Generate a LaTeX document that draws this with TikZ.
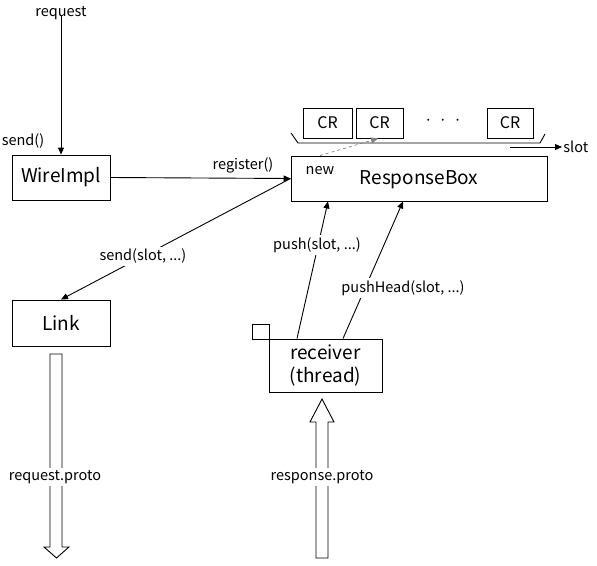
\documentclass[tikz,border=0pt]{standalone}
\usepackage{fontspec}
\setmainfont{Noto Sans CJK JP}
\usetikzlibrary{arrows.meta}
\begin{document}
\begin{tikzpicture}[x=1pt,y=-1pt,line width=0.9pt,
  big/.style={font=\fontsize{19}{22}\selectfont},
  small/.style={font=\fontsize{14.5}{16}\selectfont},
  box/.style={draw,rectangle,inner sep=0pt,big},
  lbl/.style={small,inner sep=2pt},
  wlbl/.style={small,inner sep=2pt,fill=white},
  arr/.style={-{Triangle[length=7pt,width=6pt]}},
  hollow/.style={draw,fill=white,line width=0.9pt}]
\useasboundingbox (0,0) rectangle (597,565);
% main boxes
\node[box,minimum width=98pt,minimum height=45pt] (wire) at (61,177.5) {WireImpl};
\node[box,minimum width=256pt,minimum height=45pt] (rbox) at (419,178.5) {};
\node[big] (rtext) at (419,180) {ResponseBox};
\node[small] (new) at (320,171) {new};
\node[box,minimum width=98pt,minimum height=46pt] (link) at (61,323) {Link};
\node[box,minimum width=113pt,minimum height=53pt,align=center,font=\fontsize{19}{23}\selectfont] (recv) at (325.5,365.5) {receiver\\(thread)};
\node[draw,rectangle,minimum width=17pt,minimum height=15pt,inner sep=0pt] (sq) at (260.5,331.5) {};
% CR boxes
\node[box,minimum width=49pt,minimum height=30pt,font=\fontsize{16}{18}\selectfont] (cr1) at (327.5,123) {CR};
\node[box,minimum width=47pt,minimum height=30pt,font=\fontsize{16}{18}\selectfont] (cr2) at (379.5,123) {CR};
\node[box,minimum width=46pt,minimum height=30pt,font=\fontsize{16}{18}\selectfont] (cr3) at (510,123) {CR};
\node[small] (dots) at (443,122) {·\ \ ·\ \ ·};
% bracket
\draw (291,133) -- (298,143) -- (540,143) -- (545,134);
% slot
\coordinate (slotstart) at (510,147);
\node[lbl,anchor=west,inner sep=1pt] (slot) at (562,147) {slot};
\draw[arr] (slotstart) -- (slot.west);
% request
\node[lbl] (req) at (61,13) {request};
\draw[arr] ([yshift=6pt]req.south) -- (wire.north);
\node[lbl] (send) at (23,141) {send()};
% register
\draw[arr] (wire.east) -- (rbox.west);
\node[lbl] (reg) at (243,165) {register()};
% send(slot)
\draw[arr] (rbox.west) -- (link.north) node[wlbl,pos=0.643] (sendslot) {send(slot, ...)};
% dashed new
\draw[arr,dashed,draw=gray,line width=0.7pt] ([xshift=-99pt]rbox.north) -- ([xshift=-1.5pt]cr2.south);
% push
\draw[arr] ([xshift=-28.5pt]recv.north) -- ([xshift=-91pt]rbox.south);
\node[wlbl] (push) at (317,245) {push(slot, ...)};
\draw[arr] ([xshift=17.5pt]recv.north) -- ([xshift=-16pt]rbox.south);
\node[wlbl] (pushh) at (403,288) {pushHead(slot, ...)};
% hollow arrows
\path[hollow] (50,354) -- (62,354) -- (62,547) -- (69,547) -- (56.5,558) -- (44,547) -- (50,547) -- cycle;
\node[wlbl] (reqp) at (55,477) {request.proto};
\path[hollow] (316,558) -- (328,558) -- (328,422) -- (334,422) -- (322,399) -- (310,422) -- (316,422) -- cycle;
\node[wlbl] (resp) at (322,477) {response.proto};
\end{tikzpicture}
\end{document}
